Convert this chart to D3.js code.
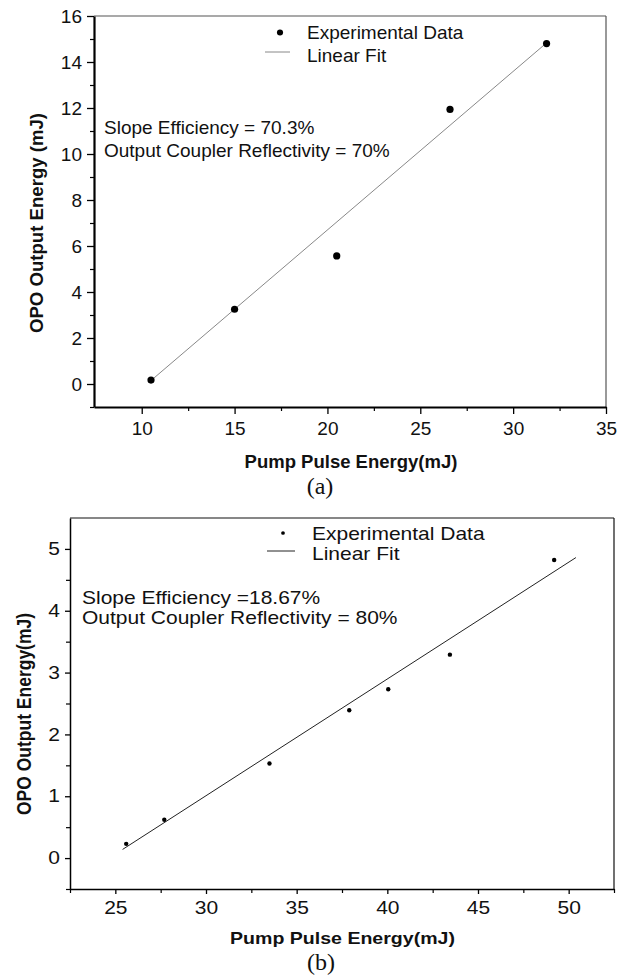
<!DOCTYPE html>
<html><head><meta charset="utf-8">
<script src="https://cdn.jsdelivr.net/npm/d3@7"></script>
<style>
html,body{margin:0;padding:0;background:#fff;}
svg text{font-family:"Liberation Sans",Arial,Helvetica,sans-serif;fill:#111;}
</style>
</head><body>
<svg id="c" width="628" height="976"></svg>
<script>
// ---- Data ----
const topPumpEnergy   = [10.5, 15.0, 20.5, 26.6, 31.8];
const topOutputEnergy = [0.17, 3.25, 5.57, 11.94, 14.8];
const topFitX = [10.6, 31.9];
const topFitY = [0.22, 14.9];
const topXTicks = [10, 15, 20, 25, 30, 35];
const topXMinor = [12.5, 17.5, 22.5, 27.5, 32.5];
const topYTicks = [0, 2, 4, 6, 8, 10, 12, 14, 16];
const topYMinor = [-1, 1, 3, 5, 7, 9, 11, 13, 15];
const topNotes = ["Slope Efficiency = 70.3%", "Output Coupler Reflectivity = 70%"];

const botPumpEnergy   = [25.6, 27.7, 33.5, 37.9, 40.05, 43.45, 49.2];
const botOutputEnergy = [0.23, 0.62, 1.53, 2.39, 2.73, 3.29, 4.82];
const botFitX = [25.4, 50.4];
const botFitY = [0.14, 4.86];
const botXTicks = [25, 30, 35, 40, 45, 50];
const botXMinor = [22.5, 27.5, 32.5, 37.5, 42.5, 47.5, 52.5];
const botYTicks = [0, 1, 2, 3, 4, 5];
const botYMinor = [-0.5, 0.5, 1.5, 2.5, 3.5, 4.5];
const botNotes = ["Slope Efficiency =18.67%", "Output Coupler Reflectivity = 80%"];

const legendLabels = ["Experimental Data", "Linear Fit"];
const xTitle = "Pump Pulse Energy(mJ)";
const topYTitle = "OPO Output Energy (mJ)";
const botYTitle = "OPO Output Energy(mJ)";

const svg = d3.select("#c");

function txt(g, x, y, s, o) {
  o = o || {};
  const sx = o.sx || 1;
  const rot = o.rot ? ` rotate(${o.rot})` : "";
  return g.append("text")
    .attr("transform", `translate(${x},${y}) scale(${sx},1)${rot}`)
    .attr("font-size", o.size)
    .attr("font-weight", o.bold ? "bold" : "normal")
    .attr("text-anchor", o.anchor || "start")
    .style("font-family", o.family || null)
    .text(s);
}

function chart(c, d) {
  const g = svg.append("g");
  const x = d3.scaleLinear().domain(c.xDomain).range([c.x0, c.x1]);
  const y = d3.scaleLinear().domain(c.yDomain).range([c.y1, c.y0]);

  // frame top/right
  g.append("line").attr("x1", c.x0).attr("x2", c.x1).attr("y1", c.y0).attr("y2", c.y0)
    .attr("stroke", c.frameColor).attr("stroke-width", 1.2);
  g.append("line").attr("x1", c.x1).attr("x2", c.x1).attr("y1", c.y0).attr("y2", c.y1)
    .attr("stroke", c.frameColor).attr("stroke-width", 1.2);

  function styleAxis(ax, isLeft) {
    ax.select(".domain").attr("stroke", "#000").attr("stroke-width", c.axisW);
    ax.selectAll(".tick line").attr("stroke", "#000").attr("stroke-width", 1.3);
    ax.selectAll(".tick text").each(function() {
      const t = d3.select(this);
      const xx = +t.attr("x") || 0;
      t.attr("x", xx / c.sx).attr("transform", `scale(${c.sx},1)`)
       .attr("font-size", c.font).style("font-family", '"Liberation Sans",Arial,sans-serif').attr("fill", "#111");
    });
  }
  // minor ticks
  g.append("g").attr("transform", `translate(0,${c.y1})`)
    .call(d3.axisBottom(x).tickValues(d.xMinor).tickSize(c.minorLen).tickFormat(""))
    .call(a => { a.select(".domain").remove(); a.selectAll("line").attr("stroke", "#000").attr("stroke-width", 1.2); });
  g.append("g").attr("transform", `translate(${c.x0},0)`)
    .call(d3.axisLeft(y).tickValues(d.yMinor).tickSize(c.minorLen).tickFormat(""))
    .call(a => { a.select(".domain").remove(); a.selectAll("line").attr("stroke", "#000").attr("stroke-width", 1.2); });

  const ax = g.append("g").attr("transform", `translate(0,${c.y1})`)
    .call(d3.axisBottom(x).tickValues(d.xTicks).tickSize(c.majorLen).tickSizeOuter(0).tickPadding(c.xPad).tickFormat(d3.format("d")));
  styleAxis(ax, false);
  const ay = g.append("g").attr("transform", `translate(${c.x0},0)`)
    .call(d3.axisLeft(y).tickValues(d.yTicks).tickSize(c.majorLen).tickSizeOuter(0).tickPadding(c.yPad).tickFormat(d3.format("d")));
  styleAxis(ay, true);

  // fit line
  const line = d3.line().x(p => x(p[0])).y(p => y(p[1]));
  g.append("path").datum(d3.zip(d.fitX, d.fitY)).attr("d", line)
    .attr("fill", "none").attr("stroke", c.fitColor).attr("stroke-width", 1);

  // points
  g.selectAll("circle.pt").data(d3.zip(d.px, d.py)).join("circle").attr("class", "pt")
    .attr("cx", p => x(p[0])).attr("cy", p => y(p[1])).attr("r", c.r).attr("fill", "#000");

  // legend
  g.append("circle").attr("cx", c.legMarkX).attr("cy", c.legMarkY).attr("r", c.r * 0.85).attr("fill", "#000");
  txt(g, c.legTextX, c.legY1, legendLabels[0], { size: c.font, sx: c.sx });
  g.append("line").attr("x1", c.legLineX0).attr("x2", c.legLineX1).attr("y1", c.legLineY).attr("y2", c.legLineY)
    .attr("stroke", c.fitColor).attr("stroke-width", 1);
  txt(g, c.legTextX, c.legY2, legendLabels[1], { size: c.font, sx: c.sx });

  // notes
  txt(g, c.noteX, c.noteY1, d.notes[0], { size: c.font, sx: c.sx });
  txt(g, c.noteX, c.noteY2, d.notes[1], { size: c.font, sx: c.sx });

  // axis titles
  txt(g, c.xTitleX, c.xTitleY, xTitle, { size: c.titleFont, sx: c.sx, bold: true, anchor: "middle" });
  txt(g, c.yTitleX, c.yTitleY, d.yTitle, { size: c.yTitleFont, sx: c.sx, bold: true, anchor: "middle", rot: -90 });

  // panel label
  txt(g, c.labelX, c.labelY, d.label, { size: 24, anchor: "middle", family: '"Liberation Serif","Times New Roman",serif' });
}

chart({
  x0: 94, x1: 606, y0: 16, y1: 407, xDomain: [7.43, 35], yDomain: [-1, 16],
  majorLen: 7, minorLen: 4, xPad: 8, yPad: 5, axisW: 2.2, frameColor: "#555",
  fitColor: "#888", r: 3.6, font: 19, sx: 1, titleFont: 18.5, yTitleFont: 18.6,
  legMarkX: 280, legMarkY: 32.5, legTextX: 307, legY1: 38.5, legY2: 62,
  legLineX0: 265, legLineX1: 290, legLineY: 52,
  noteX: 104, noteY1: 133.5, noteY2: 157,
  xTitleX: 351, xTitleY: 468, yTitleX: 43, yTitleY: 223,
  labelX: 320, labelY: 494
}, { px: topPumpEnergy, py: topOutputEnergy, fitX: topFitX, fitY: topFitY,
     xTicks: topXTicks, xMinor: topXMinor, yTicks: topYTicks, yMinor: topYMinor,
     notes: topNotes, yTitle: topYTitle, label: "(a)" });

chart({
  x0: 70, x1: 614, y0: 518, y1: 889, xDomain: [22.5, 52.5], yDomain: [-0.5, 5.5],
  majorLen: 5, minorLen: 4, xPad: 8, yPad: 5, axisW: 1.5, frameColor: "#111",
  fitColor: "#222", r: 2.2, font: 17.5, sx: 1.2, titleFont: 16.3, yTitleFont: 17.5,
  legMarkX: 283, legMarkY: 533, legTextX: 312, legY1: 540, legY2: 560,
  legLineX0: 267, legLineX1: 295, legLineY: 551,
  noteX: 82, noteY1: 604, noteY2: 624,
  xTitleX: 342.5, xTitleY: 944, yTitleX: 31, yTitleY: 714,
  labelX: 321, labelY: 970
}, { px: botPumpEnergy, py: botOutputEnergy, fitX: botFitX, fitY: botFitY,
     xTicks: botXTicks, xMinor: botXMinor, yTicks: botYTicks, yMinor: botYMinor,
     notes: botNotes, yTitle: botYTitle, label: "(b)" });
</script>
</body></html>
